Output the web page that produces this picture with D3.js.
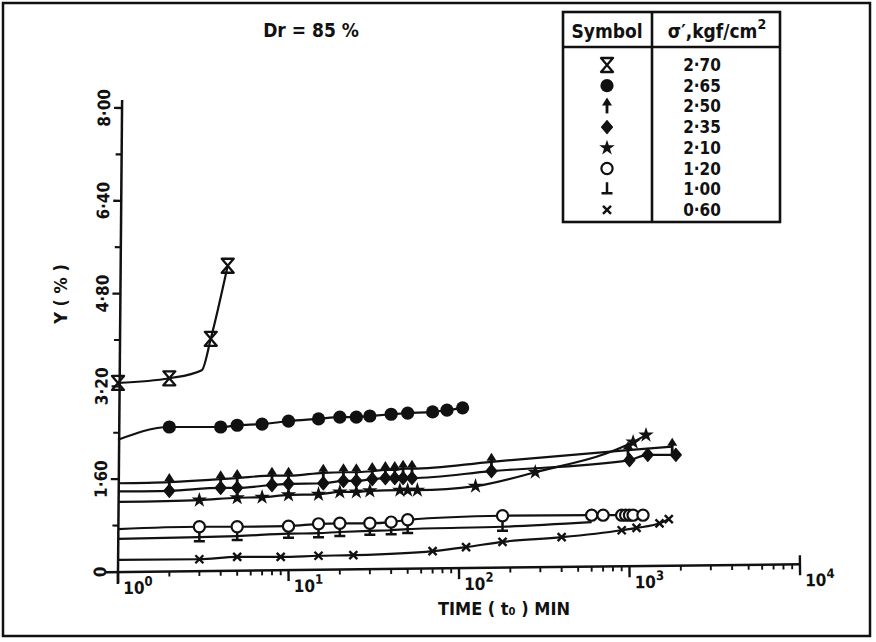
<!DOCTYPE html>
<html><head><meta charset="utf-8">
<script src="https://cdn.jsdelivr.net/npm/d3@7"></script>
<style>
html,body{margin:0;padding:0;background:#fff;}
svg text{font-family:"DejaVu Sans Condensed","DejaVu Sans",sans-serif;font-weight:bold;fill:#111;}
</style></head><body>
<svg id="chart" width="876" height="642"></svg>
<script>
// Strain Y (%) against time, one curve per effective stress, Dr = 85 %
const stressLabels = ["2·70", "2·65", "2·50", "2·35", "2·10", "1·20", "1·00", "0·60"];
const symbolKinds  = ["hourglass", "disc", "arrow", "diamond", "star", "ring", "tee", "cross"];

// marked readings: [time (min), Y (%)]
const s270 = [[1, 3.26], [2, 3.34], [3.5, 4.02], [4.4, 5.28]];
const s265 = [[2, 2.50], [4, 2.50], [5, 2.53], [7, 2.55], [10, 2.60], [15, 2.64], [20, 2.67], [25, 2.67],
              [30, 2.69], [40, 2.72], [50, 2.74], [70, 2.76], [85, 2.79], [105, 2.83]];
const s250 = [[2, 1.55], [4, 1.60], [5, 1.62], [8, 1.66], [10, 1.66], [16, 1.71], [21, 1.72], [25, 1.72],
              [31, 1.74], [37, 1.76], [42, 1.76], [47, 1.78], [53, 1.78], [155, 1.90], [980, 2.10], [1780, 2.16]];
const s235 = [[2, 1.40], [4, 1.45], [5, 1.45], [8, 1.50], [10, 1.52], [16, 1.53], [21, 1.57], [25, 1.57],
              [31, 1.60], [37, 1.62], [42, 1.62], [47, 1.62], [53, 1.62], [155, 1.74], [1000, 1.93], [1280, 2.02], [1870, 2.02]];
const s210 = [[3, 1.24], [5, 1.28], [7, 1.29], [10, 1.33], [15, 1.34], [20, 1.38], [25, 1.38], [30, 1.40],
              [45, 1.41], [50, 1.41], [57, 1.41], [125, 1.48], [280, 1.72], [1050, 2.24], [1250, 2.36]];
const s120 = [[3, 0.78], [5, 0.78], [10, 0.79], [15, 0.83], [20, 0.84], [30, 0.84], [40, 0.86], [50, 0.90],
              [180, 0.97], [600, 0.98], [700, 0.98], [900, 0.98], [950, 0.98], [1000, 0.98], [1050, 0.98], [1200, 0.98]];
const s100 = [[3, 0.60], [5, 0.62], [10, 0.66], [15, 0.67], [20, 0.69], [30, 0.71], [40, 0.72], [50, 0.74], [180, 0.78]];
const s060 = [[3, 0.22], [5, 0.26], [9, 0.26], [15, 0.28], [24, 0.29], [70, 0.36], [110, 0.43], [180, 0.52],
              [400, 0.60], [900, 0.72], [1100, 0.76], [1500, 0.84], [1700, 0.91]];

// unmarked nodes of each drawn trend line
const f270 = [[3.1, 3.48]];
const f265 = [[1, 2.28]];
const f250 = [[1, 1.53]];
const f235 = [[1, 1.39]];
const f210 = [[1, 1.21]];
const f120 = [[1, 0.74]];
const f100 = [[1, 0.57], [600, 0.86]];
const f060 = [[1, 0.21]];

const readings = [s270, s265, s250, s235, s210, s120, s100, s060];
const lineNodes = [f270, f265, f250, f235, f210, f120, f100, f060];

// axis ticks
const yMajor = [0, 1.6, 3.2, 4.8, 6.4, 8.0];
const yMajorLabels = ["0", "1·60", "3·20", "4·80", "6·40", "8·00"];
const yMinor = [0.8, 2.4, 4.0, 5.6, 7.2];
const xDecades = [1, 10, 100, 1000, 10000];
const xDecadeExp = ["0", "1", "2", "3", "4"];

const INK = "#111";
const svg = d3.select("#chart");
svg.append("rect").attr("width", 876).attr("height", 642).attr("fill", "#fff");
svg.append("rect").attr("x", 3).attr("y", 3).attr("width", 867).attr("height", 633)
   .attr("fill", "none").attr("stroke", INK).attr("stroke-width", 2.5);

const x = d3.scaleLog().domain([1, 1e4]).range([118, 800]);
const y = d3.scaleLinear().domain([0, 8]).range([572, 108]);

// ---- x axis (log) ----
const gx = svg.append("g").attr("transform", "rotate(-0.65,118,572)");
gx.append("line").attr("x1", 106).attr("x2", 801).attr("y1", 572).attr("y2", 572)
  .attr("stroke", INK).attr("stroke-width", 2.5);
x.ticks().forEach(v => {
  const isDecade = xDecades.includes(v);
  const up = v === 1e4 ? -9 : 0;
  gx.append("line").attr("x1", x(v)).attr("x2", x(v))
    .attr("y1", 572 + up).attr("y2", 572 + (isDecade ? 11 : 5))
    .attr("stroke", INK).attr("stroke-width", isDecade ? 2.4 : 1.9);
});
xDecades.forEach((v, i) => {
  const t = gx.append("text").attr("x", x(v) + 5).attr("y", 594).attr("font-size", 17);
  t.append("tspan").text("10");
  t.append("tspan").attr("font-size", 13).attr("dy", -8).text(xDecadeExp[i]);
});

// ---- y axis ----
const gy = svg.append("g").attr("transform", "rotate(0.5,118,572)");
gy.append("line").attr("x1", 118).attr("x2", 118).attr("y1", 584).attr("y2", 100)
  .attr("stroke", INK).attr("stroke-width", 2.5);
yMajor.slice(1).forEach(v => {
  gy.append("line").attr("x1", 110).attr("x2", 118).attr("y1", y(v)).attr("y2", y(v))
    .attr("stroke", INK).attr("stroke-width", 2.3);
});
yMinor.forEach(v => {
  gy.append("line").attr("x1", 112).attr("x2", 118).attr("y1", y(v)).attr("y2", y(v))
    .attr("stroke", INK).attr("stroke-width", 2.1);
});
yMajor.forEach((v, i) => {
  gy.append("text").attr("transform", `translate(100,${y(v)}) rotate(-90)`)
    .attr("text-anchor", "middle").attr("dominant-baseline", "central")
    .attr("font-size", 17).text(yMajorLabels[i]);
});

// ---- markers ----
function drawMarker(g, kind) {
  switch (kind) {
    case "hourglass":
      g.append("path").attr("d", "M-6,-7H6L-6,7H6Z").attr("fill", "none")
        .attr("stroke", INK).attr("stroke-width", 2.3).attr("stroke-linejoin", "round");
      break;
    case "disc":
      g.append("circle").attr("r", 6.6).attr("fill", INK);
      break;
    case "arrow":
      g.append("path").attr("d", "M0,7V-2").attr("stroke", INK).attr("stroke-width", 2.8);
      g.append("path").attr("d", "M-5,-1L0,-9L5,-1Z").attr("fill", INK);
      break;
    case "diamond":
      g.append("path").attr("d", "M0,-6.5L5.5,0L0,6.5L-5.5,0Z").attr("fill", INK)
        .attr("stroke", INK).attr("stroke-width", 1.2).attr("stroke-linejoin", "round");
      break;
    case "star":
      g.append("path").attr("d", d3.symbol().type(d3.symbolStar).size(75)()).attr("fill", INK);
      break;
    case "ring":
      g.append("circle").attr("r", 5.6).attr("fill", "#fff").attr("stroke", INK).attr("stroke-width", 2.2);
      break;
    case "tee":
      g.append("path").attr("d", "M0,-7V4M-5.5,4H5.5").attr("fill", "none")
        .attr("stroke", INK).attr("stroke-width", 2.5);
      break;
    case "cross":
      g.append("path").attr("d", "M-4,-4L4,4M4,-4L-4,4").attr("stroke", INK).attr("stroke-width", 2.4);
      break;
  }
}

// ---- trend lines ----
const line = d3.line().x(d => x(d[0])).y(d => y(d[1])).curve(d3.curveMonotoneX);
const gLines = svg.append("g");
readings.forEach((pts, i) => {
  const nodes = pts.concat(lineNodes[i]).sort((a, b) => a[0] - b[0]);
  gLines.append("path").attr("d", line(nodes)).attr("fill", "none")
    .attr("stroke", INK).attr("stroke-width", 2.2).attr("stroke-linejoin", "round");
});

// ---- markers on readings (1.00 under 1.20 so the rings sit on top) ----
const drawOrder = [0, 1, 4, 3, 2, 7, 6, 5];
const gMarks = svg.append("g");
drawOrder.forEach(i => {
  readings[i].forEach(d => {
    const g = gMarks.append("g").attr("transform", `translate(${x(d[0])},${y(d[1])})`);
    drawMarker(g, symbolKinds[i]);
  });
});

// ---- titles ----
svg.append("text").attr("x", 311).attr("y", 30).attr("text-anchor", "middle")
  .attr("dominant-baseline", "central").attr("font-size", 19).text("Dr = 85 %");
svg.append("text").attr("transform", "translate(60,294) rotate(-90)").attr("text-anchor", "middle")
  .attr("dominant-baseline", "central").attr("font-size", 18).text("Y ( % )");
svg.append("text").attr("x", 504).attr("y", 608).attr("text-anchor", "middle")
  .attr("dominant-baseline", "central").attr("font-size", 18).text("TIME ( t₀ ) MIN");

// ---- legend table ----
const lg = svg.append("g");
const box = {x0: 563, x1: 780, y0: 12, y1: 222, yHead: 47, xDiv: 652};
lg.append("rect").attr("x", box.x0).attr("y", box.y0).attr("width", box.x1 - box.x0)
  .attr("height", box.y1 - box.y0).attr("fill", "#fff").attr("stroke", INK).attr("stroke-width", 2.6);
lg.append("line").attr("x1", box.x0).attr("x2", box.x1).attr("y1", box.yHead).attr("y2", box.yHead)
  .attr("stroke", INK).attr("stroke-width", 2.6);
lg.append("line").attr("x1", box.xDiv).attr("x2", box.xDiv).attr("y1", box.y0).attr("y2", box.y1)
  .attr("stroke", INK).attr("stroke-width", 2.6);
lg.append("text").attr("x", 607).attr("y", 31).attr("text-anchor", "middle")
  .attr("dominant-baseline", "central").attr("font-size", 19).text("Symbol");
const hd = lg.append("text").attr("x", 717).attr("y", 31).attr("text-anchor", "middle")
  .attr("dominant-baseline", "central").attr("font-size", 19);
hd.append("tspan").text("σ′,kgf/cm");
hd.append("tspan").attr("font-size", 14).attr("dy", -7).text("2");
stressLabels.forEach((lab, i) => {
  const cy = 65 + i * 20.7;
  const g = lg.append("g").attr("transform", `translate(607,${cy})`);
  drawMarker(g, symbolKinds[i]);
  lg.append("text").attr("x", 702).attr("y", cy).attr("text-anchor", "middle")
    .attr("dominant-baseline", "central").attr("font-size", 17).text(lab);
});
</script>
</body></html>
